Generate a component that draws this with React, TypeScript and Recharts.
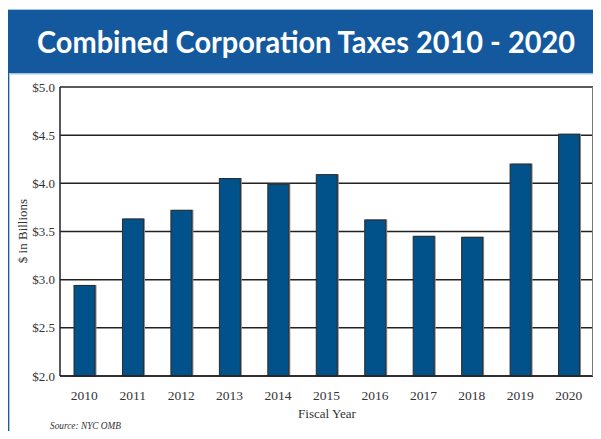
import React from 'react';
import { BarChart, Bar, XAxis, YAxis, CartesianGrid } from 'recharts';

const years = ['2010', '2011', '2012', '2013', '2014', '2015', '2016', '2017', '2018', '2019', '2020'];
const taxes = [2.94, 3.63, 3.72, 4.05, 3.99, 4.09, 3.62, 3.45, 3.44, 4.2, 4.51];
const yTicks = [2.0, 2.5, 3.0, 3.5, 4.0, 4.5, 5.0];

const data = years.map((year, i) => ({ year, value: taxes[i] }));

const HEADER_BLUE = '#14589e';
const BAR_BLUE = '#01518a';
const SERIF = '"Liberation Serif", "DejaVu Serif", serif';

// bar with a thin dark outline and a grey drop shadow on the right
const ShadowBar = (props: any) => {
  const { x, y, width, height } = props;
  if (height <= 0) return null;
  return (
    <g>
      <rect x={x + 1.5} y={y - 0.5} width={width} height={height} fill="#8a8a8a" />
      <rect x={x} y={y} width={width} height={height} fill={BAR_BLUE} stroke="#2b2b2b" strokeWidth={1} />
    </g>
  );
};

export default function App() {
  return (
    <div style={{ position: 'relative', width: 601, height: 439, margin: -8, overflow: 'hidden', background: '#fff' }}>
      {/* frame, header and free text */}
      <svg width={601} height={439} style={{ position: 'absolute', left: 0, top: 0 }}>
        <text x={268} y={6} textAnchor="middle" fontFamily={SERIF} fontWeight="bold" fontSize={22} fill="#1a4f8f">
          Chart 1
        </text>
        <rect x={6} y={9} width={595} height={1.5} fill="#a9c4e2" />
        <rect x={6} y={10} width={595} height={63} fill={HEADER_BLUE} />
        <rect x={6} y={73} width={595} height={1.5} fill="#a9c4e2" />
        <rect x={6} y={73} width={3} height={366} fill="#1b5aa5" />
        <rect x={9} y={73} width={1} height={366} fill="#a9c4e2" />
        <text x={306} y={53} textAnchor="middle" fontFamily="Lato, sans-serif" fontWeight="bold" fontSize={30}
          fill="#fff" textLength={538} lengthAdjust="spacingAndGlyphs">
          Combined Corporation Taxes 2010 - 2020
        </text>
        <text x={27} y={231} textAnchor="middle" transform="rotate(-90 27 231)" fontFamily={SERIF} fontSize={13} fill="#333">
          $ in Billions
        </text>
        <text x={327} y={418} textAnchor="middle" fontFamily={SERIF} fontSize={13} fill="#333">
          Fiscal Year
        </text>
        <text x={50} y={429} fontFamily={SERIF} fontStyle="italic" fontSize={11} fill="#333"
          textLength={71} lengthAdjust="spacingAndGlyphs">
          Source: NYC OMB
        </text>
      </svg>

      <div style={{ position: 'absolute', left: 0, top: 0 }}>
        <BarChart width={601} height={439} data={data} margin={{ top: 87, right: 6, bottom: 33, left: 10 }}>
          <CartesianGrid vertical={false} stroke="#222" strokeWidth={1.5} />
          <XAxis
            dataKey="year"
            axisLine={{ stroke: '#222', strokeWidth: 1.5 }}
            tickLine={false}
            tickSize={6}
            tickMargin={8}
            height={30}
            tick={{ fontFamily: SERIF, fontSize: 13.5, fill: '#333' }}
          />
          <YAxis
            domain={[2, 5]}
            ticks={yTicks}
            width={50}
            interval={0}
            axisLine={{ stroke: '#222', strokeWidth: 1.5 }}
            tickLine={false}
            tickSize={4}
            tickMargin={1}
            tickFormatter={(v: number) => `$${v.toFixed(1)}`}
            tick={{ fontFamily: SERIF, fontSize: 13, fill: '#333' }}
          />
          <YAxis
            yAxisId="right"
            orientation="right"
            domain={[2, 5]}
            width={2}
            axisLine={{ stroke: '#777', strokeWidth: 2 }}
            tick={false}
            tickLine={false}
          />
          <Bar dataKey="value" barSize={21} shape={ShadowBar} isAnimationActive={false} />
        </BarChart>
      </div>
    </div>
  );
}
